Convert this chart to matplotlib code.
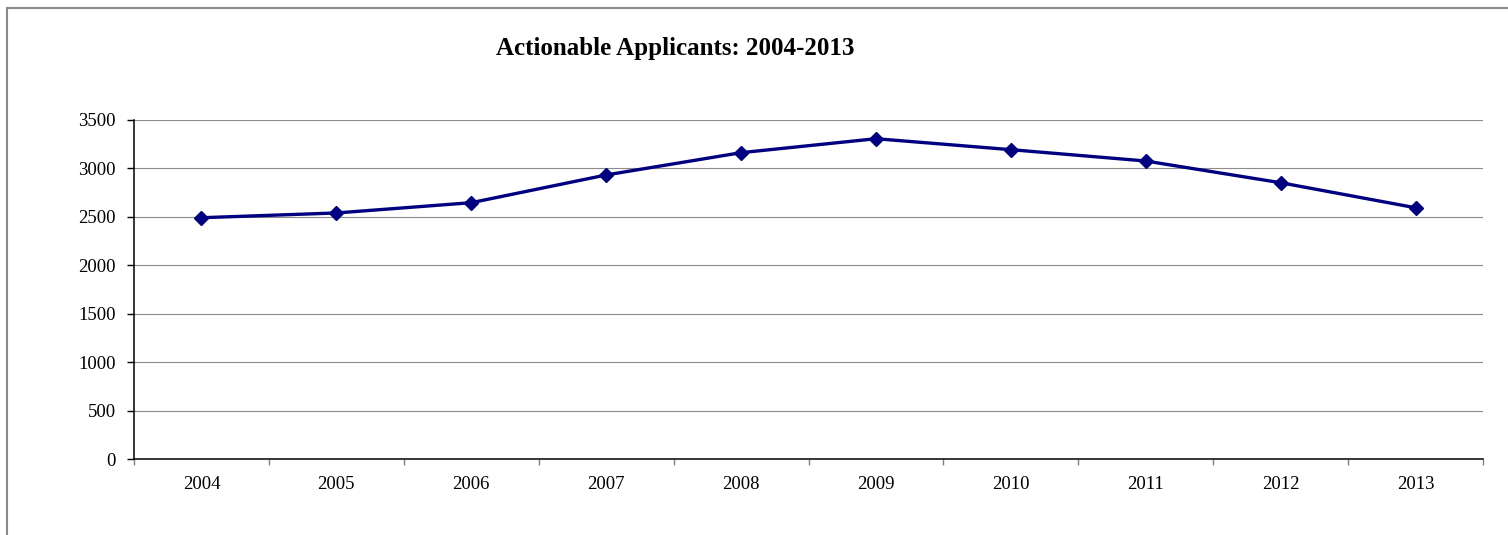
#!/usr/bin/env python3

import numpy as np
import matplotlib
matplotlib.use('Agg')
import matplotlib.pyplot as plt
from matplotlib.patches import Rectangle

years = ['2004', '2005', '2006', '2007', '2008', '2009', '2010', '2011', '2012', '2013']
applicants = [2492, 2541, 2647, 2933, 3163, 3307, 3194, 3077, 2853, 2595]
y_ticks = [0, 500, 1000, 1500, 2000, 2500, 3000, 3500]
title = 'Actionable Applicants: 2004-2013'


def create_chart():
    plt.rcParams['font.family'] = ['Liberation Serif', 'DejaVu Serif']

    fig = plt.figure(figsize=(15.08, 5.35), dpi=100)
    ax = fig.add_axes([134 / 1508, (535 - 459.3) / 535,
                       (1483 - 134) / 1508, (459.3 - 120) / 535])

    # gray frame around the whole chart, cut off at right and bottom
    fig.patches.append(Rectangle((7 / 1508, -0.2), 2.0, (535 - 8) / 535 + 0.2,
                                 transform=fig.transFigure, fill=False,
                                 edgecolor='#8a8a8a', linewidth=1.5))

    x = np.arange(len(years))
    ax.plot(x, applicants, color='#000080', linewidth=2.4,
            marker='D', markersize=7, zorder=3)

    ax.set_xlim(-0.5, len(years) - 0.5)
    ax.set_ylim(0, 3500)
    ax.set_yticks(y_ticks)
    ax.set_yticklabels([str(v) for v in y_ticks])
    ax.set_xticks(x)
    ax.set_xticklabels(years)
    ax.set_xticks(np.arange(-0.5, len(years)), minor=True)

    ax.tick_params(axis='x', which='major', length=0, pad=12, labelsize=13.5)
    ax.tick_params(axis='x', which='minor', length=4, width=1, color='#808080')
    ax.tick_params(axis='y', length=5, width=1, pad=8, labelsize=13.5)

    for v in y_ticks[1:]:
        ax.axhline(v, color='#8c8c8c', linewidth=0.8, zorder=1)

    ax.spines['top'].set_visible(False)
    ax.spines['right'].set_visible(False)
    ax.spines['left'].set_linewidth(1.1)
    ax.spines['bottom'].set_linewidth(1.1)

    fig.text(675 / 1508, 1 - 49 / 535, title, ha='center', va='center',
             fontsize=18, fontweight='bold')

    fig.savefig('out.png', dpi=100)


if __name__ == '__main__':
    create_chart()
